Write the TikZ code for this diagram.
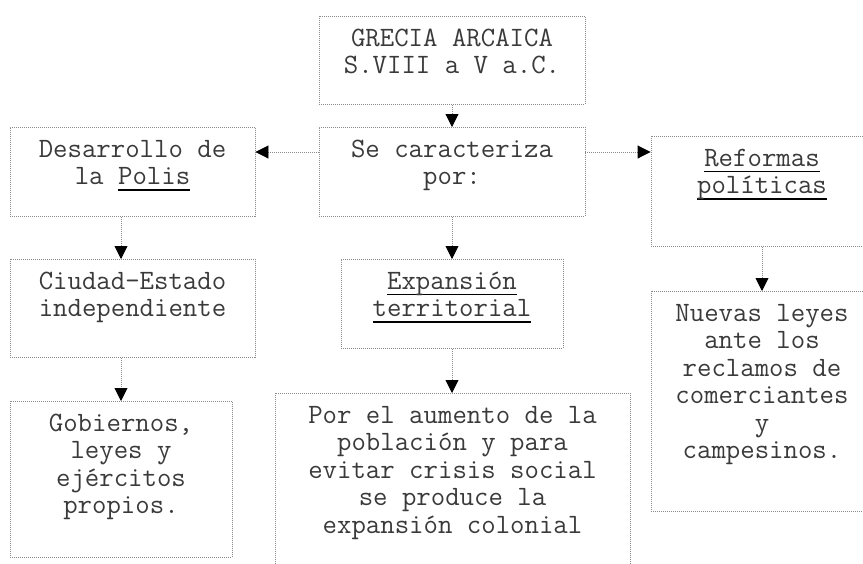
\documentclass[tikz,border=0pt]{standalone}
\usepackage{fontspec}
\usepackage{xcolor}
\usepackage{tikz}
\usetikzlibrary{arrows.meta}
\newsavebox\ulbox
\newcommand\ulw[1]{\sbox\ulbox{#1}\rlap{\color{black}\rule[-6pt]{\wd\ulbox}{1.8pt}}\usebox\ulbox}
\newcommand\vlines[1]{\begin{tabular}[t]{@{}c@{}}#1\end{tabular}}
\definecolor{ink}{HTML}{3A3A3A}
\definecolor{dotline}{HTML}{8A8A8A}

\begin{document}
\begin{tikzpicture}[x=1pt,y=1pt]
        \useasboundingbox (0,0) rectangle (863,-563);
        \begin{scope}[every node/.style = {draw=dotline, line width=0.9pt,
                dash pattern=on 1pt off 1pt, inner sep=0pt,
                anchor=north, text=ink, text height=30pt,
                font=\ttfamily\fontsize{28}{27.5}\selectfont}]
            \node[minimum width=266pt, text depth=58pt]  (G) at (452, -16)    {\vlines{GRECIA ARCAICA\\S.VIII a V a.C.}};
            \node[minimum width=266pt, text depth=59pt]  (S) at (452, -127)   {\vlines{Se caracteriza\\por:}};
            \node[minimum width=245pt, text depth=59pt]  (D) at (132.5, -127) {\vlines{Desarrollo de\\la \ulw{Polis}}};
            \node[minimum width=222pt, text depth=80pt]  (R) at (762, -136)   {\vlines{\ulw{Reformas}\\\ulw{políticas}}};
            \node[minimum width=245pt, text depth=68pt]  (C) at (132.5, -259) {\vlines{Ciudad-Estado\\independiente}};
            \node[minimum width=222pt, text depth=59pt]  (E) at (452, -259)   {\vlines{\ulw{Expansión}\\\ulw{territorial}}};
            \node[minimum width=222pt, text depth=126pt] (B) at (121, -401)   {\vlines{Gobiernos,\\leyes y\\ejércitos\\propios.}};
            \node[minimum width=355pt, text depth=162pt] (P) at (452.5, -393) {\vlines{Por el aumento de la\\población y para\\evitar crisis social\\se produce la\\expansión colonial}};
            \node[minimum width=222pt, text depth=190pt] (N) at (762, -291)   {\vlines{Nuevas leyes\\ante los\\reclamos de\\comerciantes\\y\\campesinos.}};
        \end{scope}

        \coordinate (sl) at ([yshift=-25pt]S.north west);
        \coordinate (sr) at ([yshift=-25pt]S.north east);

        \begin{scope}[>={Triangle[black,length=13pt,width=13pt]},
                every edge/.style={draw=dotline, line width=0.9pt,
                dash pattern=on 1pt off 1pt, ->}]
                \path (G.south) edge (S.north);
                \path (sl) edge (sl -| D.east);
                \path (sr) edge (sr -| R.west);
                \path (D.south -| B.north) edge (C.north -| B.north);
                \path (C.south -| B.north) edge (B.north);
                \path (S.south) edge (E.north);
                \path (E.south) edge (E.south |- P.north);
                \path (R.south) edge (N.north);
        \end{scope}
    \end{tikzpicture}
\end{document}
